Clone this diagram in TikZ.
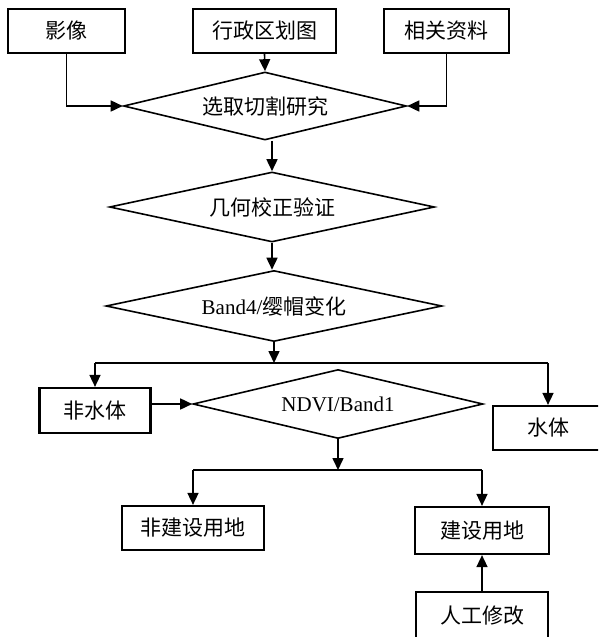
\documentclass[tikz,border=0pt]{standalone}
\usepackage{fontspec}
\setmainfont{Liberation Serif}
\newfontfamily\cjk{Noto Sans CJK SC}
\usetikzlibrary{arrows.meta,shapes.geometric}
\begin{document}
\begin{tikzpicture}[x=1pt,y=-1pt,
  box/.style={draw,line width=2.2pt,inner sep=0pt,font=\fontsize{21}{24}\selectfont\cjk},
  dia/.style={draw,diamond,shape aspect=4,line width=1.6pt,inner sep=0pt,font=\fontsize{21}{24}\selectfont},
  arr/.style={line width=1.6pt,-{Triangle[length=12pt,width=11pt]}},
  conn/.style={line width=1.6pt}]
\clip (0,0) rectangle (598,637);
\node[box,minimum width=117pt,minimum height=44pt] (ying) at (66.5,31) {影像};
\node[box,minimum width=143pt,minimum height=44pt] (xz) at (264.5,31) {行政区划图};
\node[box,minimum width=125pt,minimum height=44pt] (xg) at (446.5,31) {相关资料};
\node[dia,minimum width=283pt,minimum height=68pt] (d1) at (265,106) {\cjk 选取切割研究};
\node[dia,minimum width=325pt,minimum height=70pt] (d2) at (272,207) {\cjk 几何校正验证};
\node[dia,minimum width=336pt,minimum height=71pt] (d3) at (274,306) {Band4/{\cjk 缨帽变化}};
\coordinate (b1) at (274,363);
\coordinate (b1l) at (95,363);
\coordinate (b1r) at (548,363);
\node[box,minimum width=111pt,minimum height=45pt] (fsh) at (95,410.5) {非水体};
\node[box,minimum width=110pt,minimum height=44pt] (sh) at (548,428) {水体};
\node[dia,minimum width=290pt,minimum height=69pt] (nd) at (338,404) {NDVI/Band1};
\coordinate (b2) at (338,470);
\coordinate (b2l) at (193,470);
\coordinate (b2r) at (482,470);
\node[box,minimum width=142pt,minimum height=44pt] (fj) at (193,528) {非建设用地};
\node[box,minimum width=134pt,minimum height=47pt] (js) at (482,530.5) {建设用地};
\node[box,minimum width=132pt,minimum height=48pt] (rg) at (482,616) {人工修改};
\draw[arr] (ying.south) |- (d1.west);
\draw[arr] (xz.south) -- (d1.north);
\draw[arr] (xg.south) |- (d1.east);
\draw[arr] (d1.south -| d2.north) -- (d2.north);
\draw[arr] (d2.south) -- (d2.south |- d3.north);
\draw[arr] (d3.south) -- (b1);
\draw[conn] (b1l) -- (b1r);
\draw[arr] (b1l) -- (fsh.north);
\draw[arr] (b1r) -- (sh.north);
\draw[arr] (fsh.east |- nd.west) -- (nd.west);
\draw[arr] (nd.south) -- (b2);
\draw[conn] (b2l) -- (b2r);
\draw[arr] (b2l) -- (fj.north);
\draw[arr] (b2r) -- (js.north);
\draw[arr] (rg.north) -- (js.south);
\end{tikzpicture}
\end{document}
